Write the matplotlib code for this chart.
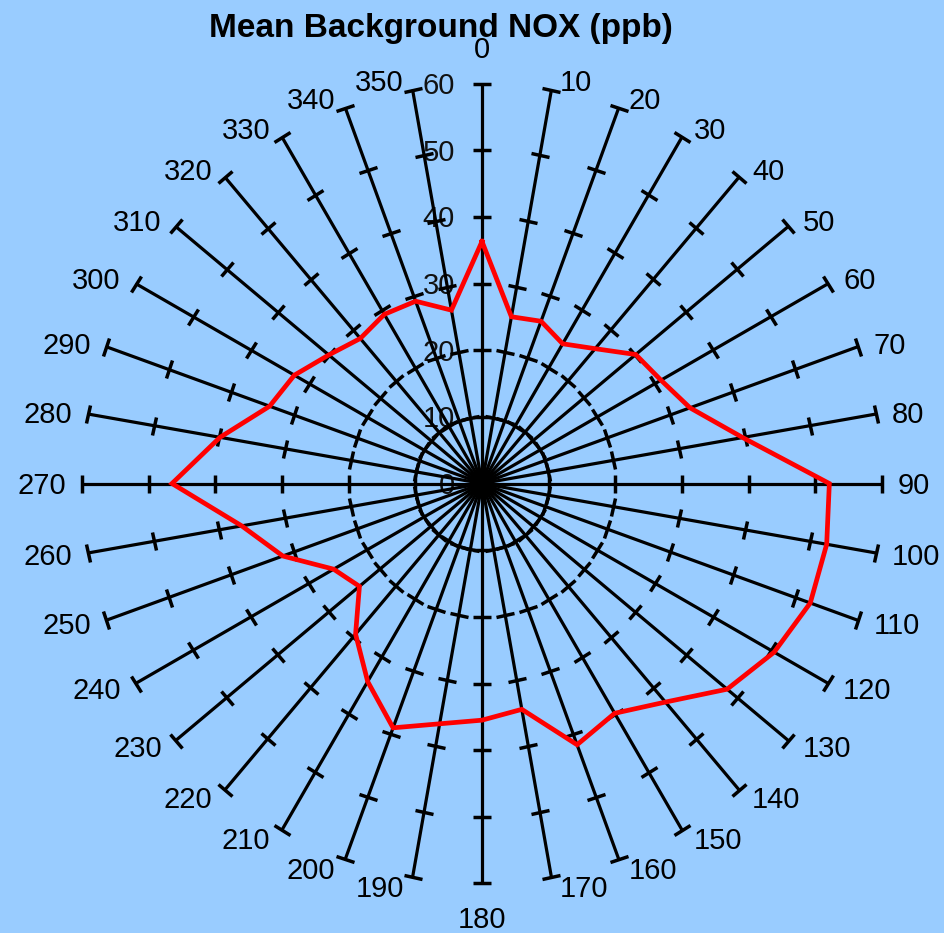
import numpy as np
import matplotlib
matplotlib.use("Agg")
import matplotlib.pyplot as plt
from matplotlib.markers import MarkerStyle
from matplotlib.transforms import Affine2D

# ---- data ----
directions = list(range(0, 360, 10))
nox = [36.3, 25.4, 25.9, 24.2, 26.4, 30.1, 31.0, 33.2, 39.7, 52.1,
       52.5, 52.4, 50.6, 48.0, 42.8, 39.8, 41.7, 34.4, 35.5, 36.6,
       39.0, 34.3, 29.5, 24.0, 25.7, 31.8, 36.6, 46.5, 39.9, 33.9,
       32.5, 30.0, 28.4, 29.3, 29.1, 26.4]
radial_ticks = [0, 10, 20, 30, 40, 50, 60]
title = "Mean Background NOX (ppb)"

plt.rcParams['font.family'] = ['Liberation Sans', 'DejaVu Sans']

W, H = 945, 933
cx, cy, R = 482, 483.5, 400
fig = plt.figure(figsize=(W / 100, H / 100), dpi=100, facecolor='#99CCFF')
ax = fig.add_axes([(cx - R) / W, (H - cy - R) / H, 2 * R / W, 2 * R / H],
                  projection='polar')
ax.set_facecolor('none')
ax.set_theta_zero_location('N')
ax.set_theta_direction(-1)
ax.set_ylim(0, 60)
ax.set_axis_off()

rmax = radial_ticks[-1]
# spokes with cross ticks
for ang in directions:
    th = np.deg2rad(ang)
    ax.plot([th, th], [0, rmax], color='black', lw=2.3, zorder=3,
            clip_on=False, solid_capstyle='butt')
    mk = MarkerStyle('_', transform=Affine2D().rotate_deg(-ang))
    ax.plot([th] * (len(radial_ticks) - 1), radial_ticks[1:], linestyle='none',
            marker=mk, markersize=13.5, markeredgewidth=2.5,
            color='black', zorder=3, clip_on=False)

# radial value labels along the 0 spoke
for r in radial_ticks:
    ax.annotate(str(r), xy=(0, r), xytext=(-27, -10.5),
                textcoords='offset pixels', ha='right', va='baseline',
                fontsize=21, color='#111111', zorder=1, annotation_clip=False)

# direction labels
for ang in directions:
    th = np.deg2rad(ang)
    s, c = np.sin(th), np.cos(th)
    if ang == 0:
        dx, dy, ha = 0, 25.5, 'center'
    elif ang == 180:
        dx, dy, ha = 0, -44.5, 'center'
    else:
        dx = np.sign(s) * (7 + 9 * abs(s))
        dy = 9.5 * c - 10.5
        ha = 'left' if s > 0 else 'right'
    ax.annotate(str(ang), xy=(th, rmax), xytext=(dx, dy),
                textcoords='offset pixels', ha=ha, va='baseline',
                fontsize=21, color='black', zorder=2, annotation_clip=False)

# data polygon
th_data = np.deg2rad(directions + [directions[0]])
vals = nox + [nox[0]]
ax.plot(th_data, vals, color='#FF0000', lw=3.4, zorder=5, clip_on=False,
        solid_joinstyle='miter')

fig.text(440.5 / W, 1 - 37 / H, title, ha='center', va='baseline',
         fontsize=24, fontweight='bold', color='black')

fig.savefig('out.png', dpi=100, facecolor=fig.get_facecolor())
